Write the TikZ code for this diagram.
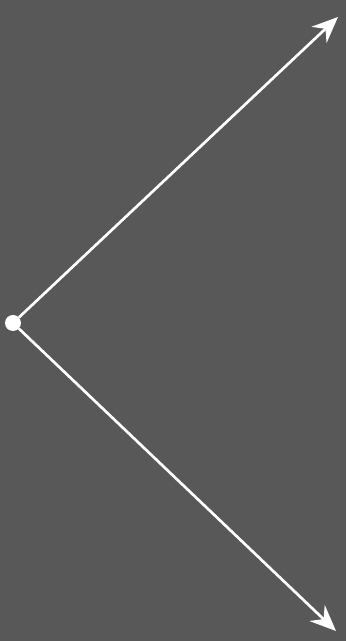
\documentclass[tikz,border=0pt]{standalone}
\usetikzlibrary{arrows.meta}
\definecolor{BoardGrey}{RGB}{88,88,88}

\begin{document}
\begin{tikzpicture}[punto/.style={circle, fill=white, inner sep=0pt, minimum size=4mm},
	rayo/.style={-{Stealth[length=6.5mm, width=5.5mm, inset=2.2mm]}, white, line width=1.9pt}]
	\fill[BoardGrey] (0,0) rectangle (8.65,16.025);
	\useasboundingbox (0,0) rectangle (8.65,16.025);
	\node[punto] (o) at (0.325,7.95) {};
	\coordinate (a) at (8.45,15.6);
	\coordinate (b) at (8.4,0.25);
	\draw[rayo] (o) -- (a);
	\draw[rayo] (o) -- (b);
\end{tikzpicture}
\end{document}
